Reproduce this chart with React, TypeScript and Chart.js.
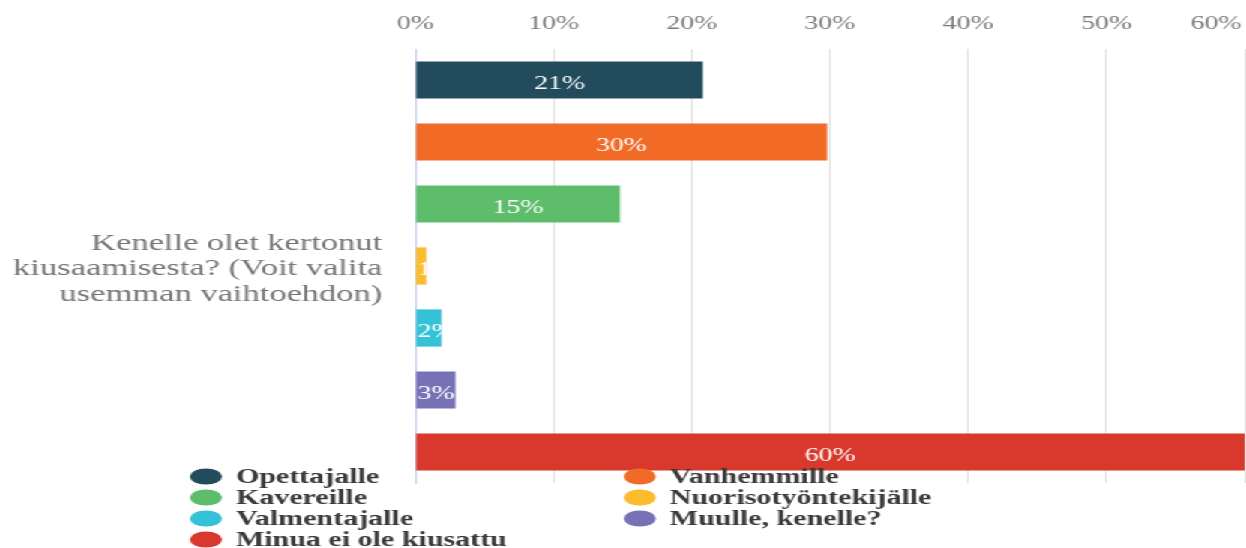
import { useEffect, useRef } from "react";
import { Chart, registerables } from "chart.js";

Chart.register(...registerables);

// ---- data ----
const categories = [["Kenelle olet kertonut", "kiusaamisesta? (Voit valita", "usemman vaihtoehdon)"]];
const seriesNames = [
  "Opettajalle",
  "Vanhemmille",
  "Kavereille",
  "Nuorisotyöntekijälle",
  "Valmentajalle",
  "Muulle, kenelle?",
  "Minua ei ole kiusattu",
];
const seriesValues = [20.8, 29.8, 14.8, 0.8, 1.9, 2.9, 60];
const xTickValues = [0, 10, 20, 30, 40, 50, 60];

// ---- style ----
const palette = ["#224c5b", "#f26b26", "#5dbd6a", "#fbbc2e", "#35c2d8", "#7771b5", "#d9392c"];
const SERIF = "'Liberation Serif', 'Times New Roman', serif";
const STRETCH = 1246 / 831;

const barLabelPlugin = {
  id: "barLabels",
  afterDatasetsDraw(chart: any) {
    const ctx = chart.ctx;
    chart.data.datasets.forEach((ds: any, i: number) => {
      const meta = chart.getDatasetMeta(i);
      meta.data.forEach((bar: any, j: number) => {
        const p = bar.getProps(["x", "y", "base", "height"], true);
        const v = ds.data[j];
        const text = Math.round(v) + "%";
        const left = Math.min(p.base, p.x);
        const right = Math.max(p.base, p.x);
        const bw = right - left;
        ctx.save();
        ctx.font = `18.5px ${SERIF}`;
        ctx.fillStyle = "#ffffff";
        ctx.textBaseline = "alphabetic";
        const w = ctx.measureText(text).width;
        ctx.beginPath();
        ctx.rect(left, p.y - p.height / 2, bw, p.height);
        ctx.clip();
        const ty = p.y + 9;
        if (w + 4 <= bw) {
          ctx.textAlign = "center";
          ctx.fillText(text, (left + right) / 2, ty);
        } else {
          ctx.textAlign = "left";
          ctx.fillText(text, left + 1, ty);
        }
        ctx.restore();
      });
    });
  },
};

const lastTickPlugin = {
  id: "lastTick",
  afterDraw(chart: any) {
    const xs = chart.scales.x;
    const ctx = chart.ctx;
    const items = xs.getLabelItems ? xs.getLabelItems() : [];
    let y = 23;
    let baseline: CanvasTextBaseline = "middle";
    if (items.length) {
      y = items[0].options.translation[1] + (items[0].textOffset || 0);
      baseline = items[0].options.textBaseline || "middle";
    }
    const last = xTickValues[xTickValues.length - 1];
    ctx.save();
    ctx.font = `18.5px ${SERIF}`;
    ctx.fillStyle = "#7a7a7a";
    ctx.textAlign = "right";
    ctx.textBaseline = baseline;
    ctx.fillText(last + "%", xs.getPixelForValue(last) - 2, y);
    ctx.restore();
  },
};

const legendPlugin = {
  id: "twoColLegend",
  afterDraw(chart: any) {
    const ctx = chart.ctx;
    const colX = [137.4, 426.8];
    const rowY0 = chart.chartArea.bottom - 6.5;
    const rowGap = 21;
    ctx.save();
    ctx.font = `bold 20px ${SERIF}`;
    ctx.textAlign = "left";
    ctx.textBaseline = "middle";
    chart.data.datasets.forEach((ds: any, i: number) => {
      const col = i % 2;
      const row = Math.floor(i / 2);
      const cx = colX[col];
      const cy = rowY0 + row * rowGap;
      ctx.fillStyle = ds.backgroundColor;
      ctx.beginPath();
      ctx.ellipse(cx, cy, 10.7, 8, 0, 0, Math.PI * 2);
      ctx.fill();
      ctx.fillStyle = "#3a3a3a";
      ctx.fillText(ds.label, cx + 20, cy + 1);
    });
    ctx.restore();
  },
};

export default function App() {
  const ref = useRef<HTMLCanvasElement | null>(null);

  useEffect(() => {
    if (!ref.current) return;
    const chart = new Chart(ref.current, {
      type: "bar",
      data: {
        labels: categories as any,
        datasets: seriesNames.map((name, i) => ({
          label: name,
          data: [seriesValues[i]],
          backgroundColor: palette[i],
          barPercentage: 0.6,
          categoryPercentage: 1,
        })),
      },
      options: {
        indexAxis: "y",
        animation: false,
        responsive: true,
        maintainAspectRatio: false,
        layout: { padding: { top: 0, right: 1, bottom: 65, left: 0 } },
        plugins: {
          legend: { display: false },
          tooltip: { enabled: false },
        },
        scales: {
          x: {
            type: "linear",
            position: "top",
            min: 0,
            max: 60,
            afterBuildTicks: (s: any) => {
              s.ticks = xTickValues.map((v) => ({ value: v }));
            },
            afterFit: (s: any) => {
              s.height = 49;
              s.paddingLeft = 0;
              s.paddingRight = 0;
            },
            grid: {
              drawTicks: false,
              color: (c: any) => (c.tick && c.tick.value === 0 ? "rgba(0,0,0,0)" : "#e2e2e2"),
              lineWidth: 1,
            },
            border: { display: false },
            ticks: {
              padding: 14,
              color: "#7a7a7a",
              font: { family: SERIF, size: 18.5 },
              maxRotation: 0,
              callback: (v: any) => (v === xTickValues[xTickValues.length - 1] ? "" : v + "%"),
            },
          },
          y: {
            type: "category",
            afterFit: (s: any) => {
              s.width = 277;
              s.paddingTop = 0;
              s.paddingBottom = 0;
            },
            grid: { display: false, drawTicks: false },
            border: { display: true, color: "#c6d1ec", width: 1 },
            ticks: {
              padding: 22,
              labelOffset: 3,
              color: "#767676",
              font: { family: SERIF, size: 23, lineHeight: 1.11 },
            },
          },
        },
      },
      plugins: [barLabelPlugin, lastTickPlugin, legendPlugin],
    });
    return () => chart.destroy();
  }, []);

  return (
    <div
      style={{
        position: "fixed",
        left: 0,
        top: 0,
        width: "831px",
        height: "548px",
        transform: `scaleX(${STRETCH})`,
        transformOrigin: "0 0",
        background: "#ffffff",
      }}
    >
      <canvas ref={ref} />
    </div>
  );
}
